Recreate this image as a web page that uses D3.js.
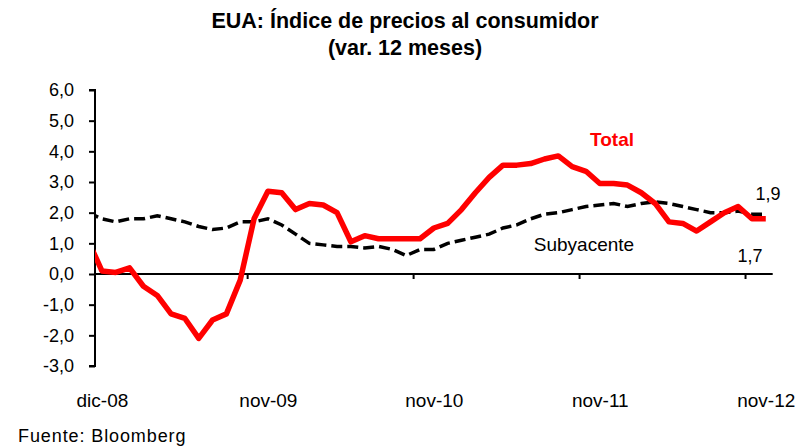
<!DOCTYPE html>
<html>
<head>
<meta charset="utf-8">
<script src="https://cdn.jsdelivr.net/npm/d3@7"></script>
<style>
  body { margin: 0; background: #fff; }
  svg text { font-family: "Liberation Sans", Arial, sans-serif; fill: #000; }
</style>
</head>
<body>
<div id="container"></div>
<script>
// months, index -1 = nov-08 (only partly visible at the left edge)
var months = d3.range(-1, 49);

// CPI total, var. 12 meses
var total = [1.1, 0.1, 0.05, 0.2, -0.4, -0.7, -1.3, -1.45, -2.1, -1.5, -1.3, -0.2, 1.8,
  2.7, 2.65, 2.1, 2.3, 2.25, 2.0, 1.05, 1.25, 1.15, 1.15, 1.15, 1.15,
  1.5, 1.65, 2.1, 2.65, 3.15, 3.55, 3.55, 3.6, 3.75, 3.85, 3.5, 3.35,
  2.95, 2.95, 2.9, 2.65, 2.3, 1.7, 1.65, 1.4, 1.7, 2.0, 2.2, 1.8, 1.8];

// core CPI (subyacente)
var core = [2.0, 1.8, 1.7, 1.8, 1.8, 1.9, 1.8, 1.7, 1.55, 1.45, 1.5, 1.7, 1.7,
  1.8, 1.6, 1.3, 1.0, 0.95, 0.9, 0.9, 0.85, 0.9, 0.8, 0.6, 0.8,
  0.8, 1.0, 1.1, 1.2, 1.3, 1.5, 1.6, 1.8, 1.95, 2.0, 2.1, 2.2,
  2.25, 2.3, 2.2, 2.3, 2.35, 2.3, 2.2, 2.1, 2.0, 2.0, 2.05, 1.95, 1.95];

var xLabelIdx = [0, 12, 24, 36, 48];
var xLabels = ["dic-08", "nov-09", "nov-10", "nov-11", "nov-12"];
var xTickIdx = [10.5, 22.5, 34.5, 46.5];
var yTicks = [-3, -2, -1, 0, 1, 2, 3, 4, 5, 6];

var width = 809, height = 448;

var svg = d3.select("#container")
  .append("svg")
  .attr("width", width)
  .attr("height", height);

var x = d3.scaleLinear()
  .domain([-0.5, 48.5])
  .range([95, 772.7]);

var y = d3.scaleLinear()
  .domain([-3, 6])
  .range([366, 90]);

// title
svg.append("text")
  .attr("x", 405).attr("y", 28)
  .attr("text-anchor", "middle")
  .style("font-size", "21.5px").style("font-weight", "bold")
  .text("EUA: Índice de precios al consumidor");
svg.append("text")
  .attr("x", 405).attr("y", 55)
  .attr("text-anchor", "middle")
  .style("font-size", "21.5px").style("font-weight", "bold")
  .text("(var. 12 meses)");

// y axis
var fmt = d3.format(".1f");
svg.append("g")
  .attr("transform", "translate(" + x.range()[0] + ",0)")
  .call(d3.axisLeft(y).tickValues(yTicks).tickSize(6).tickPadding(15)
    .tickFormat(function(d) { return fmt(d).replace(".", ",").replace("\u2212", "-"); }))
  .call(function(g) {
    g.select(".domain").attr("stroke-width", 2).attr("d", "M-6," + y(6) + "H0V" + y(-3) + "H-6");
    g.selectAll(".tick line").attr("stroke-width", 2);
    g.selectAll(".tick text").style("font-size", "18px").attr("fill", "#000");
  });

// x axis at zero
svg.append("g")
  .attr("transform", "translate(0," + y(0) + ")")
  .call(d3.axisBottom(x).tickValues(xTickIdx).tickSize(5).tickFormat(""))
  .call(function(g) {
    g.select(".domain").attr("stroke-width", 2).attr("d", "M" + x.range()[0] + ",0H" + x.range()[1]);
    g.selectAll(".tick line").attr("stroke-width", 2);
  });

// x category labels
svg.append("g")
  .attr("transform", "translate(0,390)")
  .call(d3.axisBottom(x).tickValues(xLabelIdx).tickSize(0)
    .tickFormat(function(d, i) { return xLabels[i]; }))
  .call(function(g) {
    g.select(".domain").remove();
    g.selectAll(".tick text").style("font-size", "19px").attr("fill", "#000");
  });

// clip to plot area
svg.append("clipPath").attr("id", "plot")
  .append("rect")
  .attr("x", x.range()[0]).attr("y", 0)
  .attr("width", x.range()[1] - x.range()[0]).attr("height", height);

var line = function(vals) {
  return d3.line()
    .x(function(d) { return x(d); })
    .y(function(d, i) { return y(vals[i]); })(months);
};

var lines = svg.append("g").attr("clip-path", "url(#plot)");

lines.append("path")
  .attr("d", line(core))
  .attr("fill", "none")
  .attr("stroke", "#000")
  .attr("stroke-width", 3.5)
  .attr("stroke-dasharray", "11,5");

lines.append("path")
  .attr("d", line(total))
  .attr("fill", "none")
  .attr("stroke", "#ff0000")
  .attr("stroke-width", 5.5)
  .attr("stroke-linejoin", "round");

// labels
svg.append("text")
  .attr("x", 612).attr("y", 146)
  .attr("text-anchor", "middle")
  .style("font-size", "19px").style("font-weight", "bold")
  .style("fill", "#ff0000")
  .text("Total");

svg.append("text")
  .attr("x", 584).attr("y", 251)
  .attr("text-anchor", "middle")
  .style("font-size", "19px")
  .text("Subyacente");

svg.append("text")
  .attr("x", 768).attr("y", 200)
  .attr("text-anchor", "middle")
  .style("font-size", "18px")
  .text("1,9");

svg.append("text")
  .attr("x", 750).attr("y", 262)
  .attr("text-anchor", "middle")
  .style("font-size", "18px")
  .text("1,7");

// source
svg.append("text")
  .attr("x", 18).attr("y", 442)
  .style("font-size", "18px")
  .style("letter-spacing", "0.9px")
  .text("Fuente: Bloomberg");
</script>
</body>
</html>
